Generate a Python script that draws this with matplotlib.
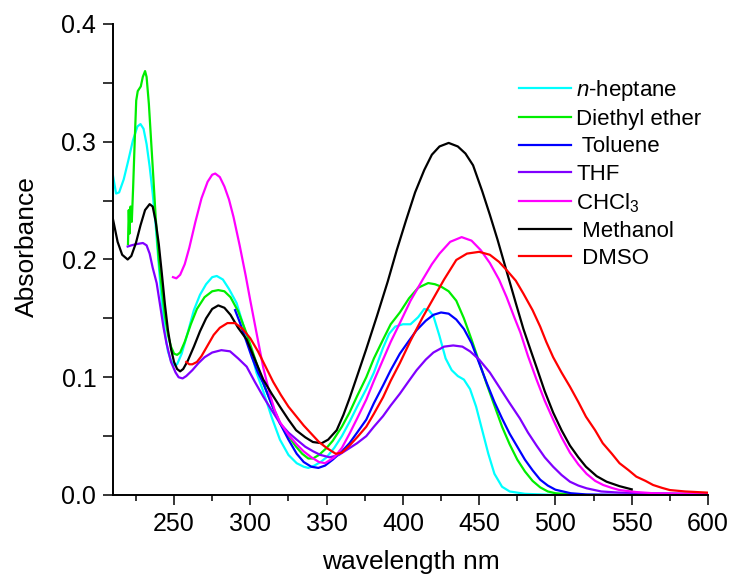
import matplotlib
matplotlib.use("Agg")
import matplotlib.pyplot as plt
from matplotlib.ticker import MultipleLocator

plt.rcParams['font.family'] = ['Liberation Sans', 'DejaVu Sans']
plt.rcParams['mathtext.fontset'] = 'custom'
plt.rcParams['mathtext.rm'] = 'Liberation Sans'
plt.rcParams['mathtext.it'] = 'Liberation Sans:italic'

# ---------------- data ----------------
labels = ['$n$-heptane', 'Diethyl ether', ' Toluene', 'THF', 'CHCl$_3$', ' Methanol', ' DMSO']
colors = ['#00FFFF', '#00EE00', '#0000FF', '#8000FF', '#FF00FF', '#000000', '#FF0000']

heptane_x = [210, 212, 214, 217, 220, 223, 226, 228, 230, 232, 234, 236, 238, 240, 242, 244, 246, 248,
             250, 252, 255, 259, 263, 267, 271, 275, 278, 282, 286, 291, 295, 300, 304, 308.5, 314,
             319.4, 325, 330.4, 335, 338, 342, 346, 350, 355, 360, 365, 370, 376, 381, 387, 391, 395,
             400, 405, 410, 414, 417, 420, 424, 428, 432, 436, 440, 444, 448, 452, 456, 460, 465, 470,
             480, 500]
heptane_y = [0.271, 0.256, 0.257, 0.268, 0.284, 0.301, 0.313, 0.315, 0.311, 0.298, 0.279, 0.256, 0.228,
             0.195, 0.163, 0.138, 0.122, 0.114, 0.110, 0.111, 0.120, 0.138, 0.157, 0.170, 0.179, 0.185,
             0.186, 0.183, 0.175, 0.163, 0.146, 0.124, 0.104, 0.088, 0.066, 0.047, 0.034, 0.027, 0.024,
             0.023, 0.025, 0.028, 0.032, 0.040, 0.050, 0.062, 0.075, 0.090, 0.104, 0.125, 0.137, 0.143,
             0.145, 0.145, 0.151, 0.158, 0.157, 0.152, 0.135, 0.116, 0.106, 0.101, 0.098, 0.090, 0.075,
             0.055, 0.035, 0.018, 0.007, 0.003, 0.001, 0.0]

ether_x = [219.8, 220.3, 220.8, 221.5, 222.3, 223.2, 224.2, 225.2, 226.2, 227.2, 228.2, 229.5, 231, 232,
           233.5, 235, 236.5, 238, 240, 242, 244, 246, 248, 250, 252, 254, 257, 261, 265, 270, 275, 279,
           283, 287, 292, 297.6, 303, 308.5, 314, 319.4, 325, 330, 334, 338, 341, 345, 350, 354, 360,
           365, 370, 376, 381, 387, 392, 398, 404, 410, 416.6, 421, 425, 430, 435, 440, 445, 450, 455,
           460, 465, 470, 475, 480, 485, 490, 495, 500, 510, 520]
ether_y = [0.213, 0.242, 0.222, 0.245, 0.232, 0.262, 0.300, 0.335, 0.343, 0.345, 0.347, 0.355, 0.360,
           0.355, 0.332, 0.300, 0.268, 0.235, 0.200, 0.175, 0.152, 0.136, 0.126, 0.120, 0.119, 0.121,
           0.130, 0.145, 0.158, 0.168, 0.173, 0.174, 0.173, 0.168, 0.156, 0.137, 0.116, 0.095, 0.077,
           0.061, 0.050, 0.041, 0.035, 0.031, 0.031, 0.034, 0.040, 0.046, 0.058, 0.070, 0.084, 0.100,
           0.116, 0.132, 0.145, 0.155, 0.167, 0.176, 0.180, 0.179, 0.177, 0.173, 0.165, 0.150, 0.132,
           0.113, 0.094, 0.076, 0.058, 0.043, 0.030, 0.020, 0.012, 0.0065, 0.003, 0.0015, 0.0005, 0.0]

toluene_x = [290, 293, 297, 301, 305, 308.5, 314, 319.4, 325, 330.4, 335, 340, 344.6, 349, 354, 360, 365,
             370, 376, 381, 387, 392, 398, 404, 409, 415, 420, 425, 430, 435, 440, 445, 450, 455, 460,
             465, 470, 475, 480, 485, 490, 495, 500, 510, 520, 550, 600]
toluene_y = [0.157, 0.147, 0.132, 0.117, 0.104, 0.095, 0.077, 0.061, 0.047, 0.035, 0.028, 0.024, 0.023,
             0.025, 0.030, 0.037, 0.044, 0.053, 0.064, 0.078, 0.093, 0.106, 0.120, 0.131, 0.140, 0.148,
             0.153, 0.155, 0.154, 0.149, 0.141, 0.129, 0.112, 0.095, 0.079, 0.065, 0.052, 0.041, 0.030,
             0.021, 0.013, 0.008, 0.0045, 0.0015, 0.0005, 0.0, 0.0]

thf_x = [219.6, 222, 225, 229.6, 232, 234, 236, 238.6, 241, 243, 245, 248, 251, 253, 255.6, 258, 262,
         266, 270, 275, 281, 286.7, 292, 297.6, 303, 308.5, 314, 319.4, 325, 330.4, 336, 341.3, 346,
         352, 358, 364, 370, 376, 381, 387, 392, 398, 404, 409, 415, 420, 427, 433, 439, 444, 450, 457,
         463, 470, 476.7, 482, 487.6, 493, 498.5, 504, 509.5, 515, 520.4, 530, 542, 560, 600]
thf_y = [0.211, 0.212, 0.213, 0.214, 0.212, 0.205, 0.193, 0.180, 0.160, 0.143, 0.129, 0.113, 0.104,
         0.100, 0.099, 0.101, 0.106, 0.112, 0.117, 0.121, 0.123, 0.122, 0.116, 0.109, 0.096, 0.0835,
         0.072, 0.061, 0.053, 0.047, 0.041, 0.037, 0.034, 0.032, 0.034, 0.039, 0.044, 0.050, 0.058,
         0.067, 0.076, 0.086, 0.097, 0.106, 0.115, 0.121, 0.126, 0.127, 0.126, 0.122, 0.115, 0.104,
         0.092, 0.078, 0.065, 0.053, 0.042, 0.032, 0.024, 0.017, 0.0113, 0.008, 0.0057, 0.003, 0.002,
         0.0015, 0.001]

chcl3_x = [249.3, 251.5, 254, 257, 260, 264, 268, 272, 275, 277, 280, 283, 286, 289, 293, 297, 300, 304,
           308.5, 312.9, 316, 319.4, 325, 330.4, 335, 340, 345, 349, 355, 360, 365, 370, 376, 381, 387,
           392, 398, 405, 413, 419, 424, 431, 438.5, 445, 451, 457, 463, 468, 473, 477, 482, 487.6, 493,
           498.5, 504, 509.5, 515, 520.4, 526, 531.3, 537, 542, 553, 564, 580, 600]
chcl3_y = [0.185, 0.184, 0.187, 0.196, 0.210, 0.232, 0.252, 0.266, 0.272, 0.273, 0.270, 0.262, 0.251,
           0.236, 0.212, 0.186, 0.165, 0.138, 0.108, 0.085, 0.072, 0.062, 0.051, 0.043, 0.037, 0.032,
           0.028, 0.027, 0.032, 0.040, 0.052, 0.065, 0.081, 0.097, 0.115, 0.130, 0.146, 0.165, 0.183,
           0.196, 0.205, 0.215, 0.219, 0.216, 0.208, 0.197, 0.183, 0.168, 0.151, 0.138, 0.118, 0.098,
           0.080, 0.064, 0.049, 0.036, 0.026, 0.018, 0.012, 0.0085, 0.006, 0.0042, 0.0025, 0.0015,
           0.001, 0.001]

methanol_x = [210, 213, 216, 219.6, 222, 225, 228, 231, 234, 236, 238, 240, 242, 244, 246, 248, 250, 252,
              254, 256, 259, 263, 267, 271, 275, 279, 283, 287, 292, 297.6, 303, 308.5, 314, 319.4, 325,
              330, 336, 341, 346.8, 351, 356.6, 361, 365, 370, 376, 383, 390, 396, 402, 408, 414, 419,
              424, 430, 436, 441, 446, 452, 457, 462, 468, 474, 479, 484, 488, 493, 498.5, 504, 509.5,
              515, 520, 527, 533.5, 542, 550]
methanol_y = [0.234, 0.215, 0.204, 0.200, 0.203, 0.214, 0.229, 0.242, 0.247, 0.245, 0.232, 0.213, 0.188,
              0.162, 0.140, 0.124, 0.113, 0.107, 0.105, 0.107, 0.114, 0.126, 0.139, 0.150, 0.158, 0.161,
              0.159, 0.153, 0.142, 0.132, 0.115, 0.098, 0.086, 0.075, 0.064, 0.055, 0.049, 0.045, 0.044,
              0.047, 0.055, 0.068, 0.082, 0.101, 0.124, 0.152, 0.181, 0.208, 0.233, 0.257, 0.276, 0.289,
              0.296, 0.299, 0.296, 0.290, 0.280, 0.258, 0.238, 0.217, 0.190, 0.163, 0.141, 0.122, 0.107,
              0.088, 0.070, 0.055, 0.042, 0.032, 0.024, 0.016, 0.0113, 0.0075, 0.0048]

dmso_x = [258, 260, 262, 265, 268, 272, 276, 280, 285, 290, 295, 300, 305, 310, 315, 320, 325, 330, 335,
          340, 345, 350, 356, 360, 365, 370, 376, 381, 387, 392, 398, 405, 413, 420, 427, 435, 442, 450,
          457, 463, 468, 474, 479, 485, 490, 494, 498.5, 504, 509.5, 515, 520, 526, 531, 537, 542, 548,
          553, 559, 564, 570, 575, 585, 600]
dmso_y = [0.113, 0.111, 0.111, 0.113, 0.118, 0.127, 0.136, 0.142, 0.146, 0.146, 0.141, 0.133, 0.122,
          0.109, 0.096, 0.085, 0.075, 0.067, 0.059, 0.052, 0.045, 0.040, 0.035, 0.036, 0.042, 0.049,
          0.058, 0.069, 0.083, 0.097, 0.112, 0.131, 0.151, 0.167, 0.183, 0.1996, 0.205, 0.2065, 0.204,
          0.198, 0.191, 0.182, 0.171, 0.157, 0.143, 0.130, 0.117, 0.104, 0.092, 0.079, 0.0665, 0.055,
          0.044, 0.035, 0.027, 0.021, 0.0156, 0.012, 0.0085, 0.006, 0.0042, 0.003, 0.002]

series_x = [heptane_x, ether_x, toluene_x, thf_x, chcl3_x, methanol_x, dmso_x]
series_y = [heptane_y, ether_y, toluene_y, thf_y, chcl3_y, methanol_y, dmso_y]

x_ticks = [250, 300, 350, 400, 450, 500, 550, 600]
y_ticks = [0.0, 0.1, 0.2, 0.3, 0.4]

# ---------------- figure ----------------
fig = plt.figure(figsize=(7.33, 5.78), dpi=100)
ax = fig.add_axes([0.1542, 0.1436, 0.8117, 0.8149])

for xs, ys, c, lab in zip(series_x, series_y, colors, labels):
    ax.plot(xs, ys, color=c, lw=1.6, label=lab, solid_joinstyle='round')

ax.set_xlim(210, 600)
ax.set_ylim(0, 0.4)
ax.set_xticks(x_ticks)
ax.set_yticks(y_ticks)
ax.set_yticklabels([f'{v:.1f}' for v in y_ticks])
ax.xaxis.set_minor_locator(MultipleLocator(25))
ax.yaxis.set_minor_locator(MultipleLocator(0.05))

for s in ['top', 'right']:
    ax.spines[s].set_visible(False)
for s in ['left', 'bottom']:
    ax.spines[s].set_linewidth(1.4)

ax.tick_params(axis='both', which='major', direction='out', length=7, width=1.1, labelsize=18, pad=5)
ax.tick_params(axis='x', which='minor', direction='out', length=4.5, width=1.1)
ax.tick_params(axis='y', which='minor', direction='out', length=7, width=1.1)

ax.set_xlabel('wavelength nm', fontsize=19, labelpad=10)
ax.set_ylabel('Absorbance', fontsize=19)
ax.yaxis.set_label_coords(-0.124, 0.527)

leg = ax.legend(loc='upper left', bbox_to_anchor=(0.708, 0.865), bbox_transform=fig.transFigure,
                frameon=False, fontsize=16, handlelength=2.35, handletextpad=0.23,
                labelspacing=0.28, borderpad=0.0, borderaxespad=0.0)

fig.savefig('out.png', dpi=100)
